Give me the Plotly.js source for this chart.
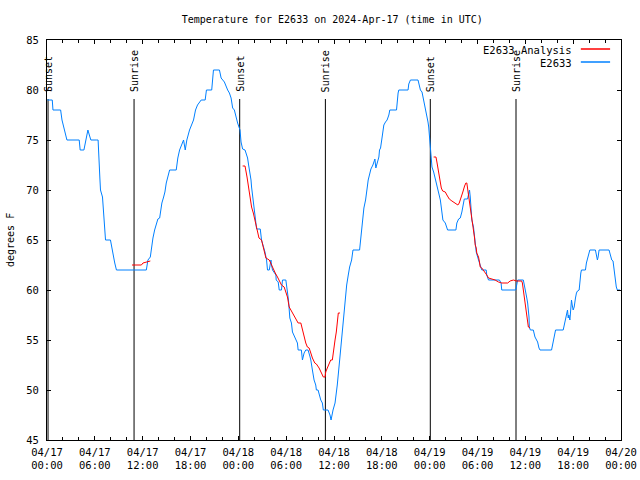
<!DOCTYPE html>
<html>
<head>
<meta charset="utf-8">
<script src="https://cdn.plot.ly/plotly-3.0.1.min.js"></script>
<style>html,body{margin:0;padding:0;background:#fff;}#chart{width:640px;height:480px;}</style>
</head>
<body>
<div id="chart"></div>
<script>
// Hours since 2024-04-17 00:00 UTC
const obsHours = [0.04,0.66,0.75,1.71,1.88,2.19,2.5,4.04,4.16,4.63,4.88,5.13,5.31,5.5,6.25,6.41,6.63,6.71,6.96,7.04,7.13,7.25,7.34,7.96,8.09,8.21,8.38,8.5,8.71,12.46,12.54,12.66,12.96,13.09,13.29,13.5,13.71,13.91,14.13,14.25,14.41,14.63,14.79,14.96,15.16,15.38,16.21,16.29,16.41,16.63,17.13,17.34,17.54,17.88,18.13,18.38,18.63,18.88,19.34,19.84,20.0,20.66,20.88,21.63,21.84,22.25,22.66,22.88,23.09,23.29,23.5,23.71,23.91,24.21,24.34,24.54,24.84,24.96,25.16,25.29,25.46,25.59,25.66,25.79,25.88,26.0,26.13,26.29,26.75,26.91,27.13,27.34,27.54,27.66,27.88,28.09,28.16,28.29,28.71,28.75,29.0,29.13,29.41,29.54,29.96,30.16,30.29,30.46,30.66,30.79,31.09,31.21,31.41,31.5,31.91,32.04,32.25,32.46,32.75,33.0,33.09,33.29,33.5,33.71,33.79,34.0,34.13,34.34,34.54,34.66,35.25,35.5,35.63,35.71,35.88,36.13,36.29,36.41,36.71,36.96,37.16,37.34,37.46,37.59,37.79,37.96,38.21,38.38,39.21,39.34,39.46,39.63,39.75,39.96,40.04,40.16,40.29,40.46,40.63,40.88,41.0,41.13,41.25,41.34,41.41,41.63,41.71,41.84,42.04,42.16,42.25,42.46,42.66,42.88,43.0,43.84,43.91,44.04,44.13,45.29,45.38,45.59,46.54,46.71,46.84,47.04,47.25,47.46,47.66,47.79,47.88,47.96,48.0,48.09,48.21,48.29,48.5,48.71,48.91,49.13,49.34,49.54,49.66,49.96,50.25,51.29,51.41,51.63,51.84,52.04,52.16,52.34,52.75,52.88,53.0,53.09,53.21,53.29,53.5,53.63,53.75,53.84,54.13,54.25,54.41,54.54,55.09,55.16,55.38,56.75,56.96,57.04,58.79,58.91,59.04,59.75,59.88,60.04,60.16,60.29,60.38,60.46,60.5,60.63,61.0,61.21,61.41,61.54,61.71,61.84,63.29,63.41,63.59,63.71,63.79,64.75,64.88,64.96,65.09,65.16,65.29,65.38,65.46,65.59,65.66,65.79,65.88,66.0,66.13,66.21,66.29,66.41,66.54,66.75,66.84,66.96,67.04,67.54,67.66,67.79,67.96,68.09,68.79,68.91,69.04,69.13,69.25,70.5,70.71,70.84,71.0,71.13,71.21,71.29,71.41,71.54,71.88];
const obsTemps = [79,79,78,78,77,76,75,75,74,74,75,76,75.5,75,75,75,71.2,70,69.3,68.3,67,65.8,65,65,64.3,63.7,63.2,62.7,62,62,62.7,63,63.3,64.2,65.2,66,66.7,67.1,67.2,67.8,68.7,69.3,69.8,70.7,71.3,72,72,72.7,73.2,74,75,74,75,76,76.5,77,78,78.5,79,79,80,80,82,82,81.2,80.8,80,79.7,79.2,78.2,78,77.3,76.7,76,74.8,74.1,74,73.7,73.2,72.5,71.7,71,70.3,69.3,68.5,68,67.2,66.1,66.1,65,64.5,63.8,63,62,62,63,62.5,62,61.5,61,60.8,60,60,61,61,60,59,57.2,56.7,55.8,55.2,55,54.7,54,54,53,53.7,54,54,53.3,53,52,51,50.5,50,50,49.5,49,48.7,48,48,47.5,47,47.5,48,48.7,49.7,50.5,53,55.3,57,58,59.3,60.5,61.5,62.3,63,64,64,65,66.5,67.5,68.2,69,69.8,70.2,71,71.7,72.1,72.5,72.8,73.1,72.2,72.5,72.8,73.3,74,74.2,75.3,76,76.5,76.8,77,77.5,78,78,79,79.7,80,80,80.6,81,81,80.5,80,79.8,79,78.3,77.5,76.8,76.3,75.5,74.7,74,73.3,72.3,71.8,71,70.3,69.7,69,67.5,67,66.7,66,66,66.7,67.1,67.2,67.8,68.5,69.1,69.1,69.8,70,69.3,68,67,66.3,65.5,64.5,63.8,63,62.7,62.2,62,62,61.5,61,61,60.7,60,60,60.5,61,61,60.3,59.8,59.3,58.7,58,57.3,56.3,56,56,55.3,55,54.8,54.2,54,54,54.5,55,55.7,56,56,56.5,56.8,57.2,57.7,58,57.2,57.5,57,57.8,59,58.5,58,58.3,59,59.2,59.7,59.9,60,61,61.7,62,62,62.7,63.2,63.6,64,64,63.3,63,63.3,64,64,63.3,63,62.9,62,61.5,60.8,60.3,60,60];

// Analysis series (null = gap between segments)
const anaHours = [10.66,11.84,12.04,12.5,12.96,13.0,
24.54,24.84,25.09,25.29,25.41,25.54,25.66,25.88,26.09,26.21,26.34,26.59,26.91,27.04,27.25,27.46,27.88,28.29,28.63,28.91,29.13,29.41,29.75,29.96,30.16,30.38,30.59,30.79,31.0,31.21,31.5,31.84,32.04,32.25,32.46,32.66,32.88,33.09,33.29,33.59,33.79,34.13,34.34,34.54,34.66,34.88,34.96,35.16,35.38,35.59,35.79,35.88,36.0,36.13,36.29,36.41,36.54,36.75,36.8,
48.5,48.79,48.91,49.04,49.21,49.34,49.46,49.63,49.96,50.16,50.46,50.79,51.21,51.54,51.71,51.91,52.16,52.38,52.54,52.66,52.79,52.88,53.0,53.16,53.29,53.41,53.5,53.63,53.71,53.84,53.91,54.13,54.25,54.34,54.54,54.75,54.96,55.16,55.38,55.79,56.21,56.63,57.04,57.79,58.09,58.5,58.91,59.54,59.63,59.75,59.88,59.96,60.09,60.16,60.29,60.38,60.59];
const anaTemps = [62.5,62.5,62.7,62.8,62.9,null,
72.4,72.4,71.3,70.3,69.3,68.7,68.3,67.7,67,66.5,66,65.2,65,64.5,63.8,63.2,63,62.2,61.7,61.3,61,60.5,60.3,59.8,59.3,58.3,58,57.8,57.5,57.2,56.7,56.7,56,55.2,54.7,54.3,54.2,53.7,53.2,52.7,52.6,52.2,51.8,51.5,51.3,51.3,51.8,52.2,52.7,53,53,53.7,54.2,55,55.8,56.7,57.7,57.7,null,
73.3,73.3,72.8,72.2,71.5,70.8,70.2,69.9,69.8,69.5,69.1,68.9,68.7,68.5,68.7,69.3,69.8,70.4,70.7,70.7,70,69.3,68.7,68,67,66.3,65.7,65.2,64.5,64.2,63.7,63.3,62.8,62.3,62.2,62,61.8,61.5,61.2,61.1,61,60.8,60.7,60.7,60.9,61,60.9,60.9,60.7,60,59.3,58.7,58,57.3,56.7,56.3,56.2];

const eventHours = [0.13, 10.92, 24.17, 34.92, 48.08, 58.83];
const eventNames = ["Sunset","Sunrise","Sunset","Sunrise","Sunset","Sunrise"];
const eventTop = 79.1;
const eventLabelY = 79.6;

const seriesNames = ["E2633 Analysis", "E2633"];
const seriesColors = ["#ff0000", "#0080ff"];

const titleText = "Temperature for E2633 on 2024-Apr-17 (time in UTC)";
const yTitle = "degrees F";

const BASE = Date.UTC(2024, 3, 17, 0, 0, 0);
function toDate(h) {
  return new Date(BASE + Math.round(h * 3600000)).toISOString().replace('T', ' ').slice(0, 19);
}

const FONT = "DejaVu Sans Mono, monospace";
const FS = 10.5;
const traces = [];

eventHours.forEach(function (h) {
  traces.push({
    x: [toDate(h), toDate(h)], y: [eventTop, 45],
    mode: 'lines', line: {color: '#000', width: 1},
    hoverinfo: 'skip', showlegend: false
  });
});

traces.push({
  x: obsHours.map(toDate), y: obsTemps, name: seriesNames[1],
  mode: 'lines', line: {color: seriesColors[1], width: 1}, showlegend: false
});
traces.push({
  x: anaHours.map(toDate), y: anaTemps, name: seriesNames[0],
  mode: 'lines', line: {color: seriesColors[0], width: 1}, connectgaps: false, showlegend: false
});

const annotations = eventHours.map(function (h, i) {
  return {
    x: toDate(h), y: eventLabelY, xref: 'x', yref: 'y',
    text: eventNames[i], textangle: -90, showarrow: false,
    xanchor: 'center', yanchor: 'bottom',
    font: {family: FONT, size: 10, color: '#000'}
  };
});

// y-axis title placed like the reference (far left)
annotations.push({
  x: 0, y: 0.5, xref: 'paper', yref: 'paper', xshift: -37,
  text: yTitle, textangle: -90, showarrow: false,
  xanchor: 'center', yanchor: 'middle',
  font: {family: FONT, size: 10, color: '#000'}
});

// legend (text right-aligned, line sample to the right, as in the reference)
const legY = [0.975, 0.9425];
const shapes = [];
[0, 1].forEach(function (i) {
  annotations.push({
    x: 0.918, y: legY[i], xref: 'paper', yref: 'paper',
    text: seriesNames[i], showarrow: false, xanchor: 'right', yanchor: 'middle',
    font: {family: FONT, size: FS, color: '#000'}
  });
  shapes.push({
    type: 'line', xref: 'paper', yref: 'paper',
    x0: 0.930, x1: 0.981, y0: legY[i] + 0.0025, y1: legY[i] + 0.0025,
    line: {color: seriesColors[i], width: 1.5}
  });
});

const layout = {
  width: 640, height: 480,
  margin: {l: 47, r: 19, t: 40, b: 40, pad: 0},
  paper_bgcolor: '#fff', plot_bgcolor: '#fff',
  font: {family: FONT, size: FS, color: '#000'},
  title: {text: titleText, x: 0.497, xref: 'paper', y: 0.96, yref: 'container', yanchor: 'middle',
          font: {family: FONT, size: 10, color: '#000'}},
  xaxis: {
    type: 'date', range: [toDate(0), toDate(72)],
    dtick: 21600000, tick0: toDate(0), tickformat: '%m/%d<br>%H:%M',
    ticks: 'inside', ticklen: 4, tickcolor: '#000', tickwidth: 1,
    minor: {dtick: 7200000, ticks: 'inside', ticklen: 3, tickcolor: '#000', showgrid: false},
    showline: true, linecolor: '#000', linewidth: 1, mirror: 'ticks',
    showgrid: false, zeroline: false, ticklabelstandoff: 2,
    tickfont: {family: FONT, size: FS, color: '#000'}
  },
  yaxis: {
    range: [45, 85], dtick: 5, tick0: 45,
    ticks: 'inside', ticklen: 4, tickcolor: '#000', tickwidth: 1,
    showline: true, linecolor: '#000', linewidth: 1, mirror: 'ticks',
    showgrid: false, zeroline: false, ticklabelstandoff: 5,
    tickfont: {family: FONT, size: FS, color: '#000'}
  },
  annotations: annotations,
  shapes: shapes,
  showlegend: false
};

Plotly.newPlot('chart', traces, layout, {displayModeBar: false, staticPlot: true});
</script>
</body>
</html>
